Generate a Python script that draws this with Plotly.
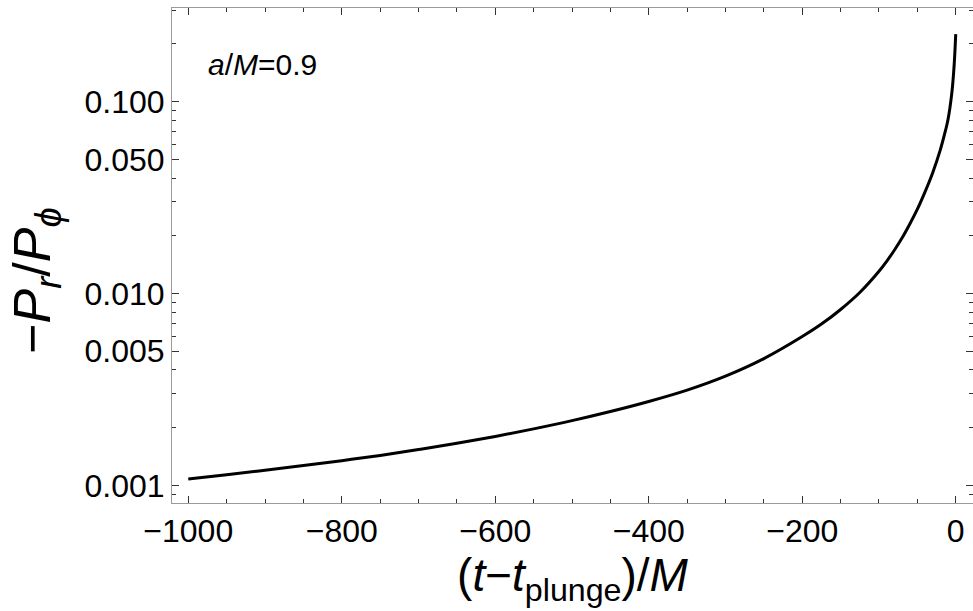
import plotly.graph_objects as go

# data (curve samples)
t_vals = [-1000, -950, -900, -850, -800, -750, -700, -650, -600, -550, -500,
          -450, -400, -350, -300, -250, -200, -175, -150, -125, -100, -90,
          -80, -70, -60, -50, -40, -30, -20, -15, -10, -5, -2, 0]
ratio_vals = [0.001079, 0.001136, 0.001198, 0.001267, 0.001344, 0.001432,
              0.001535, 0.001655, 0.001797, 0.001968, 0.002173, 0.002424,
              0.002735, 0.003135, 0.003708, 0.004576, 0.005964, 0.006926,
              0.008255, 0.01012, 0.01305, 0.01472, 0.01681, 0.01945,
              0.02296, 0.02751, 0.03388, 0.04266, 0.05623, 0.06664,
              0.08105, 0.1119, 0.1567, 0.225]

x_major = [-1000, -800, -600, -400, -200, 0]
x_major_text = ["\u22121000", "\u2212800", "\u2212600", "\u2212400", "\u2212200", "0"]
x_minor = [v for v in range(-1000, 1, 50) if v not in x_major]

y_major = [0.001, 0.005, 0.01, 0.05, 0.1]
y_major_text = ["0.001", "0.005", "0.010", "0.050", "0.100"]
y_minor = [0.0009, 0.002, 0.003, 0.004, 0.006, 0.007, 0.008, 0.009,
           0.02, 0.03, 0.04, 0.06, 0.07, 0.08, 0.09, 0.2, 0.3]

FONT = "Liberation Sans, Arial, sans-serif"
FRAME = "#9a9a9a"
TICKC = "#333333"

fig = go.Figure()
fig.add_trace(go.Scatter(x=t_vals, y=ratio_vals, mode="lines",
                         line=dict(color="black", width=3, shape="spline", smoothing=1.0),
                         showlegend=False, hoverinfo="skip"))

fig.update_layout(
    width=973, height=611,
    margin=dict(l=172, r=0, t=8, b=108),
    plot_bgcolor="white", paper_bgcolor="white",
    font=dict(family=FONT, color="black"),
    xaxis=dict(range=[-1021.2, 22.5], showgrid=False, zeroline=False,
               showline=True, linecolor=FRAME, linewidth=1, mirror="ticks",
               ticks="inside", ticklen=7, tickwidth=1, tickcolor=TICKC,
               tickmode="array", tickvals=x_major, ticktext=x_major_text,
               tickfont=dict(size=32, family=FONT),
               minor=dict(tickvals=x_minor, ticks="inside", ticklen=4,
                          tickcolor=TICKC, tickwidth=1, showgrid=False),
               title=dict(text="(<i>t</i>\u2212<i>t</i><sub>plunge</sub>)/<i>M</i>",
                          font=dict(size=46, family=FONT), standoff=8)),
    yaxis=dict(type="log", range=[-3.0923, -0.5115], showgrid=False, zeroline=False,
               showline=True, linecolor=FRAME, linewidth=1, mirror="ticks",
               ticks="inside", ticklen=7, tickwidth=1, tickcolor=TICKC,
               tickmode="array", tickvals=y_major, ticktext=y_major_text,
               tickfont=dict(size=32, family=FONT),
               minor=dict(tickvals=y_minor, ticks="inside", ticklen=4,
                          tickcolor=TICKC, tickwidth=1, showgrid=False)),
    annotations=[
        dict(text="<i>a</i>/<i>M</i>=0.9", xref="paper", yref="paper",
             x=0.043, y=0.885, xanchor="left", yanchor="middle",
             showarrow=False, font=dict(size=30, family=FONT)),
        dict(text="\u2212<i>P</i><sub><i>r</i></sub>/<i>P</i><sub><i>\u03d5</i></sub>",
             xref="paper", yref="paper", x=-0.169, y=0.45,
             xanchor="center", yanchor="middle", textangle=-90,
             showarrow=False, font=dict(size=52, family=FONT)),
    ],
)

fig.write_html("out.html")
